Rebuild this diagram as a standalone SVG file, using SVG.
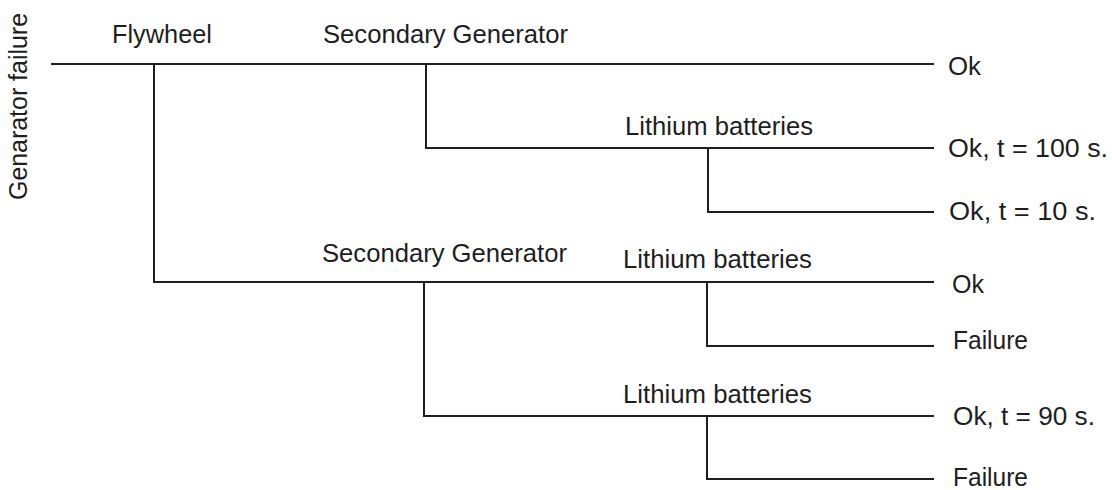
<svg xmlns="http://www.w3.org/2000/svg" width="1112" height="490" viewBox="0 0 1112 490">
  <style>
    .t { font-family: "Liberation Sans", Arial, sans-serif; font-size: 25px; fill: #1e1e1e; }
    .c { fill: none; stroke: #1e1e1e; stroke-width: 2; }
  </style>
  <rect width="1112" height="490" fill="#ffffff"/>
  <g id="connectors">
    <path class="c" d="M51,64 H934"/>
    <path class="c" d="M154,64 V282 H934"/>
    <path class="c" d="M426,64 V148 H934"/>
    <path class="c" d="M708,148 V212 H934"/>
    <path class="c" d="M424,282 V416 H934"/>
    <path class="c" d="M707,282 V346 H934"/>
    <path class="c" d="M707,416 V479 H934"/>
  </g>
  <g id="root"><text class="t" transform="translate(27,200) rotate(-90)" x="0" y="0" textLength="187" lengthAdjust="spacingAndGlyphs">Genarator failure</text></g>
  <g id="flywheel"><text class="t" x="112" y="43" textLength="100" lengthAdjust="spacingAndGlyphs">Flywheel</text></g>
  <g id="secgen1"><text class="t" x="323" y="43" textLength="245" lengthAdjust="spacingAndGlyphs">Secondary Generator</text></g>
  <g id="lith1"><text class="t" x="625" y="135" textLength="188" lengthAdjust="spacingAndGlyphs">Lithium batteries</text></g>
  <g id="secgen2"><text class="t" x="322" y="262" textLength="245" lengthAdjust="spacingAndGlyphs">Secondary Generator</text></g>
  <g id="lith2"><text class="t" x="623" y="268" textLength="189" lengthAdjust="spacingAndGlyphs">Lithium batteries</text></g>
  <g id="lith3"><text class="t" x="623" y="403" textLength="189" lengthAdjust="spacingAndGlyphs">Lithium batteries</text></g>
  <g id="out1"><text class="t" x="948" y="75" textLength="33" lengthAdjust="spacingAndGlyphs">Ok</text></g>
  <g id="out2"><text class="t" x="948" y="157" textLength="160" lengthAdjust="spacingAndGlyphs">Ok, t = 100 s.</text></g>
  <g id="out3"><text class="t" x="949" y="220" textLength="147" lengthAdjust="spacingAndGlyphs">Ok, t = 10 s.</text></g>
  <g id="out4"><text class="t" x="952" y="293" textLength="32" lengthAdjust="spacingAndGlyphs">Ok</text></g>
  <g id="out5"><text class="t" x="953" y="349" textLength="75" lengthAdjust="spacingAndGlyphs">Failure</text></g>
  <g id="out6"><text class="t" x="953" y="425" textLength="142" lengthAdjust="spacingAndGlyphs">Ok, t = 90 s.</text></g>
  <g id="out7"><text class="t" x="953" y="486" textLength="75" lengthAdjust="spacingAndGlyphs">Failure</text></g>
</svg>
